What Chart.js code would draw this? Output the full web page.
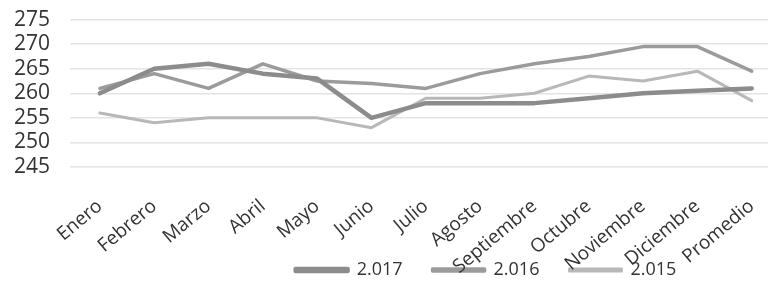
<!DOCTYPE html>
<html>
<head>
<meta charset="utf-8">
<script src="https://cdn.jsdelivr.net/npm/chart.js@4"></script>
<style>
  html, body { margin: 0; padding: 0; background: #fff; }
  #wrap { width: 768px; height: 283px; }
</style>
</head>
<body>
<div id="wrap"><canvas id="chart"></canvas></div>
<script>
const months = ['Enero', 'Febrero', 'Marzo', 'Abril', 'Mayo', 'Junio', 'Julio', 'Agosto',
    'Septiembre', 'Octubre', 'Noviembre', 'Diciembre', 'Promedio'];
const serie2017 = [260, 265, 266, 264, 263, 255, 258, 258, 258, 259, 260, 260.5, 261];
const serie2016 = [261, 264, 261, 266, 262.5, 262, 261, 264, 266, 267.5, 269.5, 269.5, 264.5];
const serie2015 = [256, 254, 255, 255, 255, 253, 259, 259, 260, 263.5, 262.5, 264.5, 258.5];
const yTicks = [245, 250, 255, 260, 265, 270, 275];

function toPoints(values) {
    return values.map((v, i) => ({ x: i, y: v }));
}

// the legend in the original sits right of centre, over the month labels
const shiftLegend = {
    id: 'shiftLegend',
    afterLayout(chart) {
        const lg = chart.legend;
        lg.left += 95;
        lg.right += 95;
        lg.top += 6;
        lg.bottom += 6;
    }
};

const textColor = '#333';
const fam = "'Open Sans', sans-serif";

new Chart(document.getElementById('chart'), {
    type: 'line',
    data: {
        datasets: [
            { label: '2.017', data: toPoints(serie2017), borderColor: '#8c8c8c', backgroundColor: '#8c8c8c', borderWidth: 4.5 },
            { label: '2.016', data: toPoints(serie2016), borderColor: '#9b9b9b', backgroundColor: '#9b9b9b', borderWidth: 3.5 },
            { label: '2.015', data: toPoints(serie2015), borderColor: '#b8b8b8', backgroundColor: '#b8b8b8', borderWidth: 3 }
        ]
    },
    options: {
        responsive: true,
        maintainAspectRatio: false,
        animation: false,
        layout: { padding: { top: 0, left: 14, right: 0, bottom: 0 } },
        elements: {
            point: { radius: 0 },
            line: { tension: 0, borderJoinStyle: 'round', borderCapStyle: 'round' }
        },
        scales: {
            x: {
                type: 'linear',
                min: -0.55,
                max: 12.3,
                afterBuildTicks(scale) {
                    scale.ticks = months.map((m, i) => ({ value: i }));
                },
                afterFit(scale) {
                    scale.height = 58;
                    scale.paddingLeft = 0;
                    scale.paddingRight = 0;
                    // let the rotated labels run under the legend
                    scale._computeLabelArea = () => undefined;
                },
                ticks: {
                    callback: (v) => months[v],
                    autoSkip: false,
                    minRotation: 40,
                    maxRotation: 40,
                    color: textColor,
                    font: { family: fam, size: 19 },
                    padding: 20
                },
                grid: { display: false },
                border: { display: false }
            },
            y: {
                min: 245,
                max: 275,
                afterBuildTicks(scale) {
                    scale.ticks = yTicks.map(v => ({ value: v }));
                },
                afterFit(scale) {
                    scale.width = 56;
                },
                ticks: { autoSkip: false, crossAlign: 'far', color: textColor, font: { family: fam, size: 21 }, padding: 7 },
                grid: { color: '#e4e4e4', lineWidth: 1.5, drawTicks: false },
                border: { display: false }
            }
        },
        plugins: {
            tooltip: { enabled: false },
            legend: {
                position: 'bottom',
                labels: {
                    color: textColor,
                    font: { family: fam, size: 18 },
                    boxWidth: 52,
                    boxHeight: 2,
                    padding: 30
                }
            }
        }
    },
    plugins: [shiftLegend]
});
</script>
</body>
</html>
